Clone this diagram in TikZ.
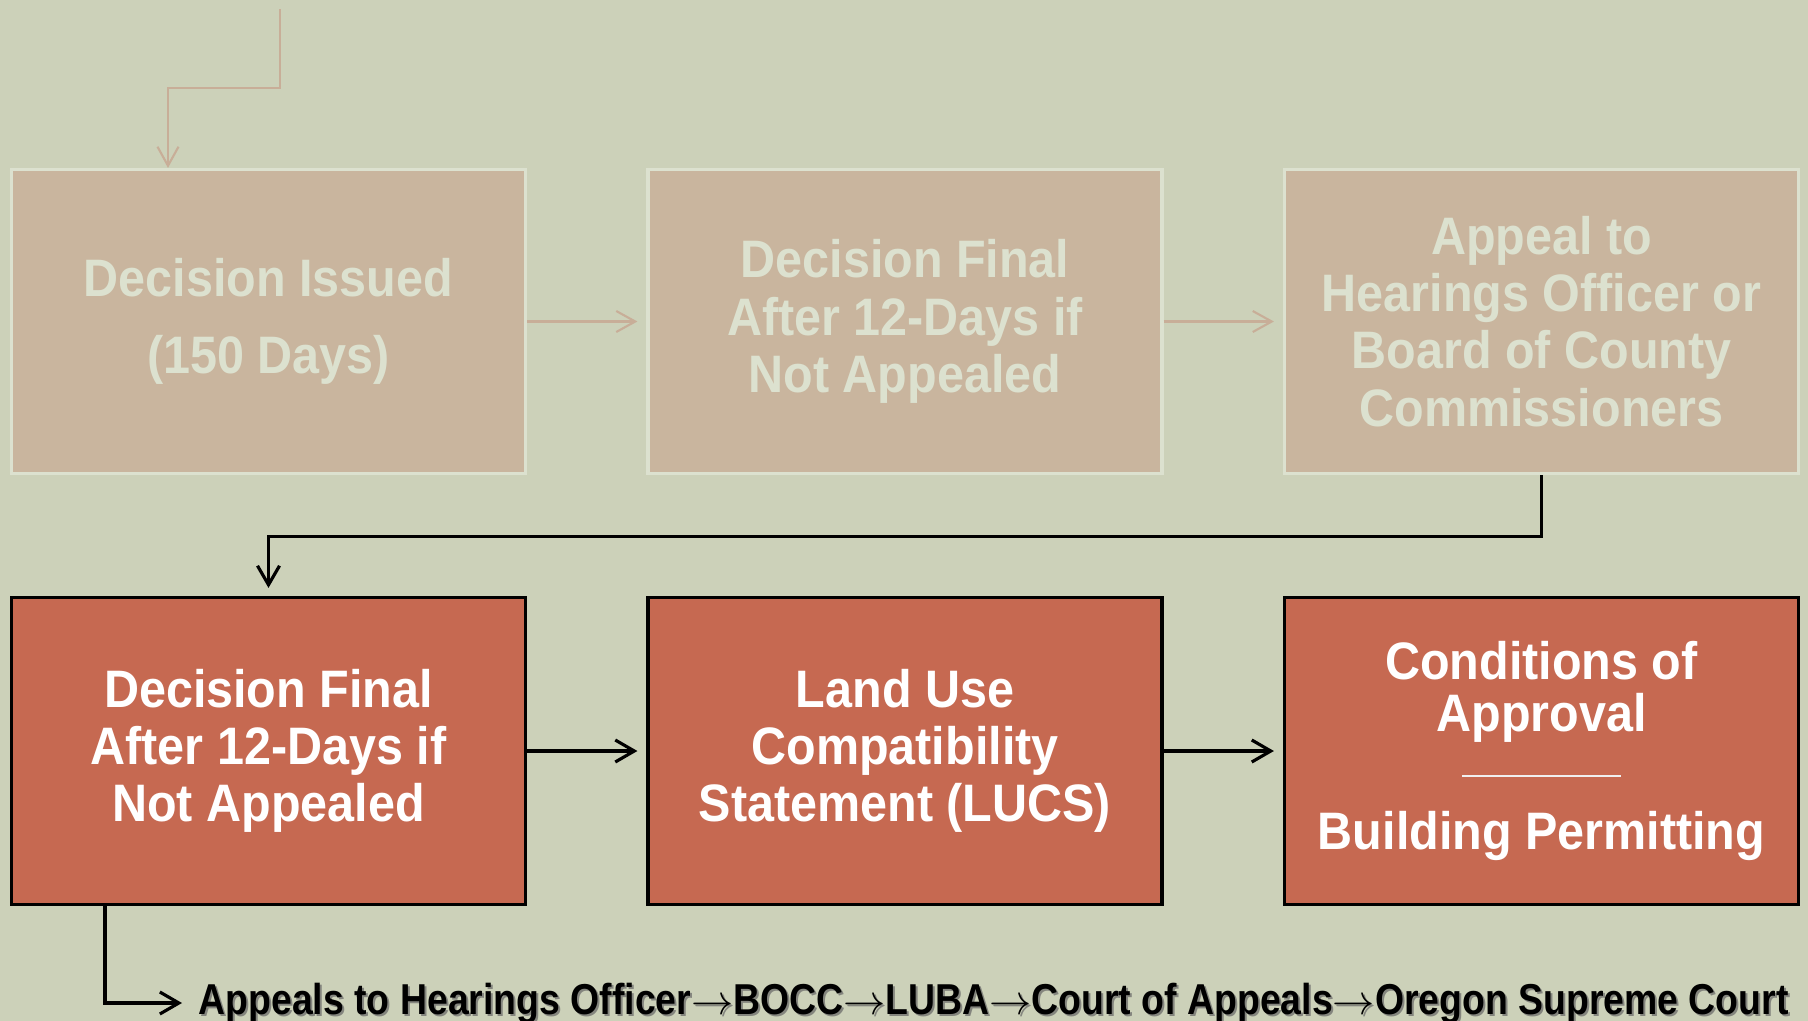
\documentclass[tikz,border=0pt]{standalone}
\usepackage{fontspec}
\setmainfont{Liberation Sans}
\newfontfamily\boxfont[FakeStretch=0.92]{Liberation Sans}
\newfontfamily\appealfont[FakeStretch=0.865]{Liberation Sans}
\usetikzlibrary{arrows.meta}

\definecolor{bgcol}{HTML}{CCD1B9}
\definecolor{fadefill}{HTML}{C9B59E}
\definecolor{fadeline}{HTML}{DCE1CF}
\definecolor{fadearrowcol}{HTML}{C8AE98}
\definecolor{redfill}{HTML}{C66951}

\tikzset{
    fadebox/.style={draw=fadeline, line width=0.9pt, fill=fadefill, text=fadeline,
        minimum width=51.4mm, minimum height=30.4mm, align=center,
        font=\boxfont\bfseries\fontsize{15}{16.3}\selectfont},
    redbox/.style={draw=black, line width=0.9pt, fill=redfill, text=white,
        minimum width=51.4mm, minimum height=30.7mm, align=center,
        font=\boxfont\bfseries\fontsize{15}{16.3}\selectfont},
    fadearrow/.style={draw=fadearrowcol, line width=0.6pt,
        -{Straight Barb[length=1.9mm, width=2.1mm]}},
    blackarrow/.style={draw=black, line width=0.9pt,
        -{Straight Barb[length=1.9mm, width=2.2mm]}},
    appealtext/.style={anchor=west, inner sep=1.6mm,
        font=\appealfont\bfseries\fontsize{12.3}{14}\selectfont}
}

\begin{document}
\begin{tikzpicture}[x=0.1mm, y=-0.1mm]
    % background
    \useasboundingbox (0,0) rectangle (1808,1021);
    \fill[bgcol] (0,0) rectangle (1808,1021);

    % faded row
    \node[fadebox] (f1) at (268.5,321.5) {Decision Issued\\[2mm](150 Days)};
    \node[fadebox] (f2) at (905,321.5) {Decision Final\\After 12-Days if\\Not Appealed};
    \node[fadebox] (f3) at (1541.5,321.5) {Appeal to\\Hearings Officer or\\Board of County\\Commissioners};

    % red row
    \node[redbox] (r1) at (268.5,751) {Decision Final\\After 12-Days if\\Not Appealed};
    \node[redbox] (r2) at (905,751) {Land Use\\Compatibility\\Statement (LUCS)};
    \node[redbox] (r3) at (1541.5,751) {Conditions of\\[-0.5mm]Approval\\
        \textcolor{white!88!gray}{\rule[1.2mm]{15.9mm}{0.6pt}}\\[0.3mm]Building Permitting};

    % appeals line
    \node[appealtext, text=black!60, opacity=0.7] (appealsshadow) at (184,1005)
        {Appeals to Hearings Officer$\rightarrow$BOCC$\rightarrow$LUBA$\rightarrow$Court of Appeals$\rightarrow$Oregon Supreme Court};
    \node[appealtext] (appeals) at (182,1003)
        {Appeals to Hearings Officer$\rightarrow$BOCC$\rightarrow$LUBA$\rightarrow$Court of Appeals$\rightarrow$Oregon Supreme Court};

    % connectors
    \coordinate (top) at (280,9);
    \draw[fadearrow] (top) |- (168,88) -- (168,88 |- f1.north);
    \draw[fadearrow, shorten >=0.9mm] (f1) -- (f2);
    \draw[fadearrow, shorten >=0.9mm] (f2) -- (f3);
    \draw[blackarrow, shorten >=0.8mm] (f3.south) -- ++(0,61) -| (r1.north);
    \draw[blackarrow, shorten >=0.9mm] (r1) -- (r2);
    \draw[blackarrow, shorten >=0.9mm] (r2) -- (r3);
    \draw[blackarrow] (r1.south west) ++(95,0) |- (appeals.west);
\end{tikzpicture}
\end{document}
